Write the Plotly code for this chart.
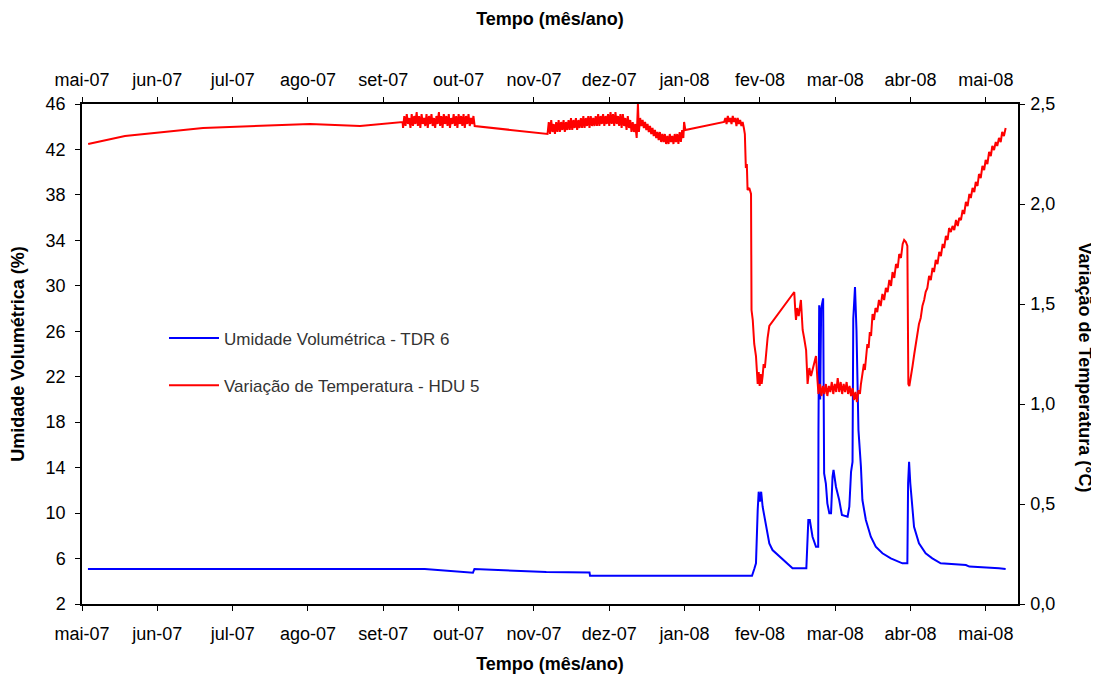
import pandas as pd
import plotly.graph_objects as go

# ---------------- data ----------------
BASE = pd.Timestamp("2007-05-01")
month_labels = ["mai-07", "jun-07", "jul-07", "ago-07", "set-07", "out-07", "nov-07",
                "dez-07", "jan-08", "fev-08", "mar-08", "abr-08", "mai-08"]
tick_days = [0, 30.5, 61, 91.5, 122, 152.5, 183, 213.5, 244, 274.5, 305, 335.5, 366]
x_end_day = 379

# Umidade Volumétrica - TDR 6 (days since 01/05/2007, %)
tdr_days = [2.4, 138.8, 158.3, 158.9, 188.0, 205.5, 205.7, 271.3, 272.3, 272.9, 273.6, 274.0,
            274.5, 275.0, 275.6, 277.0, 278.3, 279.6, 287.7, 293.3, 294.1, 294.7, 295.8, 297.2,
            298.1, 298.2, 298.5, 298.9, 299.3, 300.1, 300.5, 301.2, 301.8, 302.6, 303.3, 303.9,
            304.3, 305.3, 306.6, 307.7, 310.0, 310.7, 311.4, 312.0, 312.3, 313.0, 313.6, 314.4,
            315.4, 316.0, 317.4, 319.4, 321.4, 324.1, 327.5, 332.2, 334.2, 334.5, 334.9, 335.4,
            336.9, 338.9, 341.6, 344.3, 347.7, 357.9, 359.3, 371.3, 374.0]
tdr_vals = [5.08, 5.08, 4.75, 5.08, 4.82, 4.78, 4.49, 4.49, 5.14, 5.58, 10.27, 11.88,
            11.0, 11.88, 10.56, 8.8, 7.34, 6.75, 5.14, 5.14, 9.39, 9.39, 7.92, 7.04,
            7.04, 17.0, 28.3, 20.0, 28.0, 28.9, 13.5, 12.6, 10.86, 9.98, 9.98, 13.2,
            13.8, 12.3, 11.15, 9.83, 9.68, 10.56, 13.64, 14.5, 27.1, 29.9, 26.1, 17.3,
            14.08, 11.15, 9.39, 7.92, 7.04, 6.46, 6.02, 5.58, 5.58, 12.62, 14.52, 12.6,
            8.8, 7.34, 6.46, 6.02, 5.58, 5.43, 5.29, 5.14, 5.08]

# Variação de Temperatura - HDU 5 (days since 01/05/2007, °C), in segments
hdu_days_a = [2.5, 17.4, 49.0, 92.3, 112.6, 127.5, 129.8]
hdu_vals_a = [2.30, 2.34, 2.38, 2.40, 2.39, 2.405, 2.41]

hdu_days_b = [130.0, 130.5, 131.0, 131.5, 132.0, 132.5, 133.0, 133.5, 134.0, 134.5,
              135.0, 135.5, 136.0, 136.5, 137.0, 137.5, 138.0, 138.5, 139.0, 139.5,
              140.0, 140.5, 141.0, 141.5, 142.0, 142.5, 143.0, 143.5, 144.0, 144.5,
              145.0, 145.5, 146.0, 146.5, 147.0, 147.5, 148.0, 148.5, 149.0, 149.5,
              150.0, 150.5, 151.0, 151.5, 152.0, 152.5, 153.0, 153.5, 154.0, 154.5,
              155.0, 155.5, 156.0, 156.5, 157.0, 157.5, 158.0, 158.5, 159.0]
hdu_vals_b = [2.38, 2.44, 2.39, 2.45, 2.40, 2.43, 2.38, 2.45, 2.39, 2.44,
              2.40, 2.46, 2.39, 2.44, 2.38, 2.45, 2.40, 2.43, 2.39, 2.45,
              2.38, 2.44, 2.40, 2.45, 2.39, 2.43, 2.38, 2.44, 2.40, 2.46,
              2.39, 2.44, 2.38, 2.45, 2.40, 2.44, 2.39, 2.45, 2.38, 2.43,
              2.40, 2.45, 2.39, 2.44, 2.38, 2.45, 2.40, 2.44, 2.39, 2.45,
              2.38, 2.44, 2.40, 2.45, 2.39, 2.43, 2.40, 2.44, 2.39]

hdu_days_c = [188.5, 189.0, 189.5, 190.0, 190.5, 191.0, 191.5, 192.0, 192.5, 193.0,
              193.5, 194.0, 194.5, 195.0, 195.5, 196.0, 196.5, 197.0, 197.5, 198.0,
              198.5, 199.0, 199.5, 200.0, 200.5, 201.0, 201.5, 202.0, 202.5, 203.0,
              203.5, 204.0, 204.5, 205.0, 205.5, 206.0, 206.5, 207.0, 207.5, 208.0,
              208.5, 209.0, 209.5, 210.0, 210.5, 211.0, 211.5, 212.0, 212.5, 213.0,
              213.5, 214.0, 214.5, 215.0, 215.5, 216.0, 216.5, 217.0, 217.5, 218.0,
              218.5, 219.0, 219.5, 220.0, 220.5, 221.0, 221.5, 222.0, 222.5, 223.0,
              223.5, 224.0, 224.6, 225.1, 225.5,
              226.0, 226.5, 227.0, 227.5, 228.0, 228.5, 229.0, 229.5, 230.0, 230.5,
              231.0, 231.5, 232.0, 232.5, 233.0, 233.5, 234.0, 234.5, 235.0, 235.5,
              236.0, 236.5, 237.0, 237.5, 238.0, 238.5, 239.0, 239.5, 240.0, 240.5,
              241.0, 241.5, 242.0, 242.5, 243.0, 243.5, 243.8, 244.3]
hdu_vals_c = [2.35, 2.41, 2.35, 2.42, 2.36, 2.40, 2.35, 2.41, 2.36, 2.42,
              2.36, 2.41, 2.37, 2.42, 2.36, 2.41, 2.37, 2.42, 2.37, 2.43,
              2.37, 2.42, 2.38, 2.43, 2.37, 2.42, 2.38, 2.43, 2.38, 2.44,
              2.38, 2.43, 2.39, 2.44, 2.38, 2.44, 2.39, 2.43, 2.39, 2.44,
              2.39, 2.45, 2.39, 2.44, 2.40, 2.45, 2.39, 2.44, 2.40, 2.45,
              2.39, 2.46, 2.40, 2.45, 2.39, 2.46, 2.40, 2.44, 2.39, 2.45,
              2.38, 2.45, 2.39, 2.43, 2.37, 2.44, 2.38, 2.42, 2.36, 2.41,
              2.36, 2.40, 2.33, 2.50, 2.36,
              2.43, 2.39, 2.42, 2.38, 2.41, 2.37, 2.40, 2.36, 2.39, 2.35,
              2.38, 2.34, 2.37, 2.33, 2.36, 2.32, 2.36, 2.31, 2.35, 2.31,
              2.35, 2.30, 2.34, 2.30, 2.35, 2.31, 2.34, 2.30, 2.35, 2.31,
              2.35, 2.30, 2.36, 2.31, 2.37, 2.33, 2.41, 2.37]

hdu_days_d = [260.0, 260.5, 261.0, 261.5, 262.0, 262.5, 263.0, 263.5, 264.0, 264.5,
              265.0, 265.5, 266.0, 266.5, 267.0, 267.5, 268.0]
hdu_vals_d = [2.41, 2.43, 2.40, 2.44, 2.41, 2.43, 2.40, 2.44, 2.41, 2.43,
              2.39, 2.43, 2.40, 2.42, 2.39, 2.41, 2.38]

hdu_days_e = [268.4, 268.8, 269.2, 269.5, 270.2, 270.9, 271.1, 271.6, 272.2, 272.9, 273.3, 273.6,
              274.0, 274.4, 274.8, 275.2, 275.6, 276.0, 276.5, 277.0, 277.6, 278.3, 288.4, 288.8,
              289.1, 289.6, 290.2, 291.1, 291.8, 292.4, 293.2, 293.8, 294.5, 295.2, 295.8, 296.5,
              297.2, 297.8, 298.2]
hdu_vals_e = [2.35, 2.18, 2.20, 2.07, 2.08, 2.05, 1.47, 1.42, 1.30, 1.24, 1.15, 1.10,
              1.16, 1.09, 1.15, 1.10, 1.14, 1.20, 1.18, 1.27, 1.33, 1.39, 1.56, 1.47,
              1.42, 1.48, 1.44, 1.52, 1.37, 1.33, 1.27, 1.10, 1.18, 1.14, 1.17, 1.20,
              1.24, 1.12, 1.05]

hdu_days_f = [298.8, 299.4, 300.0, 300.6, 301.2, 301.8, 302.4, 303.0, 303.6, 304.2, 304.8, 305.4,
              306.0, 306.6, 307.2, 307.8, 308.4, 309.0, 309.6, 310.2, 310.8, 311.4, 312.0, 312.6,
              313.2, 313.8, 314.4, 315.0, 315.4]
hdu_vals_f = [1.10, 1.04, 1.09, 1.05, 1.10, 1.04, 1.09, 1.06, 1.11, 1.05, 1.10, 1.06,
              1.13, 1.06, 1.11, 1.05, 1.10, 1.06, 1.11, 1.05, 1.09, 1.04, 1.08, 1.02,
              1.06, 1.01, 1.07, 1.05, 1.10]

hdu_days_g = [316.0, 316.6, 317.0, 317.4, 318.0, 318.5, 319.0, 319.5, 320.1, 320.7, 321.3, 322.0,
              322.7, 323.4, 324.1, 324.8, 325.5, 326.2, 326.9, 327.6, 328.2, 328.9, 329.6, 330.3,
              330.9, 331.6, 332.3, 332.9, 333.6, 334.2]
hdu_vals_g = [1.14, 1.20, 1.17, 1.24, 1.30, 1.28, 1.36, 1.34, 1.45, 1.42, 1.48, 1.46,
              1.52, 1.49, 1.55, 1.52, 1.58, 1.56, 1.62, 1.59, 1.66, 1.63, 1.70, 1.68,
              1.75, 1.73, 1.80, 1.82, 1.81, 1.79]

hdu_days_h = [334.6, 335.0, 335.6, 336.3, 337.0, 337.6, 338.3, 338.9, 339.6, 340.3, 341.0, 341.6,
              342.3, 343.0, 343.7, 344.4, 345.0, 345.7, 346.4, 347.1, 347.8, 348.5, 349.1, 349.8,
              350.5, 351.1, 351.8, 352.5, 353.2, 353.9, 354.6, 355.2, 355.9, 356.6, 357.2, 357.9,
              358.6, 359.3, 359.9, 360.6, 361.3, 361.9, 362.6, 363.2, 363.9, 364.6, 365.3, 365.9,
              366.6, 367.3, 368.0, 368.6, 369.3, 370.0, 370.6, 371.3, 372.0, 372.6, 373.3, 374.0]
hdu_vals_h = [1.10, 1.09, 1.15, 1.19, 1.25, 1.30, 1.34, 1.40, 1.43, 1.49, 1.52, 1.56,
              1.58, 1.64, 1.62, 1.68, 1.66, 1.72, 1.70, 1.76, 1.74, 1.80, 1.78, 1.84,
              1.82, 1.88, 1.86, 1.89, 1.87, 1.92, 1.89, 1.93, 1.92, 1.97, 1.95, 2.01,
              1.99, 2.05, 2.03, 2.08, 2.06, 2.11, 2.09, 2.15, 2.13, 2.19, 2.17, 2.22,
              2.20, 2.26, 2.24, 2.29, 2.27, 2.31, 2.29, 2.33, 2.31, 2.36, 2.34, 2.38]

hdu_days = (hdu_days_a + hdu_days_b + hdu_days_c + hdu_days_d + hdu_days_e
            + hdu_days_f + hdu_days_g + hdu_days_h)
hdu_vals = (hdu_vals_a + hdu_vals_b + hdu_vals_c + hdu_vals_d + hdu_vals_e
            + hdu_vals_f + hdu_vals_g + hdu_vals_h)


def to_dates(days):
    return BASE + pd.to_timedelta(days, unit="D")


tick_dates = to_dates(tick_days)
x_range = [BASE, BASE + pd.Timedelta(days=x_end_day)]

FONT = "Liberation Sans, Arial, sans-serif"
# the page body adds an 8 px offset, so the figure is 8 px smaller than the window
W, H = 1091, 669
M_L, M_R, M_T, M_B = 74, 81, 96, 73
PLOT_W = W - M_L - M_R
PLOT_H = H - M_T - M_B

fig = go.Figure()
fig.add_trace(go.Scatter(
    x=to_dates(tdr_days), y=tdr_vals, mode="lines",
    name="Umidade Volumétrica - TDR 6", legendgroup="a",
    line=dict(color="#0000FF", width=2),
    xaxis="x", yaxis="y"))
fig.add_trace(go.Scatter(
    x=to_dates(hdu_days), y=hdu_vals, mode="lines",
    name="Variação de Temperatura - HDU 5", legendgroup="b",
    line=dict(color="#FF0000", width=2),
    xaxis="x2", yaxis="y2"))

axis_common = dict(showline=True, linecolor="black", linewidth=1.5, showgrid=False,
                   zeroline=False, ticks="outside", ticklen=5, tickcolor="black",
                   automargin=False,
                   tickfont=dict(family=FONT, size=18, color="black"))
title_font = dict(family=FONT, size=18, color="black")

fig.update_layout(
    width=W, height=H,
    paper_bgcolor="white", plot_bgcolor="white",
    separators=",.",
    margin=dict(l=M_L, r=M_R, t=M_T, b=M_B, autoexpand=False),
    font=dict(family=FONT, size=17, color="black"),
    xaxis=dict(type="date", range=x_range, tickvals=tick_dates, ticktext=month_labels,
               ticklabelstandoff=8,
               title=dict(text="<b>Tempo (mês/ano)</b>", font=title_font, standoff=14),
               **axis_common),
    xaxis2=dict(type="date", range=x_range, tickvals=tick_dates, ticktext=month_labels,
                overlaying="x", side="top", anchor="y", ticklabelstandoff=4,
                title=dict(text="<b>Tempo (mês/ano)</b>", font=title_font, standoff=40),
                **axis_common),
    yaxis=dict(range=[2, 46], tickvals=[2, 6, 10, 14, 18, 22, 26, 30, 34, 38, 42, 46],
               ticklabelstandoff=6,
               title=dict(text="<b>Umidade Volumétrica (%)</b>", font=title_font, standoff=18),
               **axis_common),
    yaxis2=dict(range=[0, 2.5], tickvals=[0, 0.5, 1.0, 1.5, 2.0, 2.5], tickformat=".1f",
                overlaying="y", side="right", anchor="x", ticklabelstandoff=2,
                **axis_common),
    legend=dict(x=0.0876, y=0.567, xanchor="left", yanchor="top",
                bgcolor="rgba(0,0,0,0)", itemwidth=50, tracegroupgap=22,
                font=dict(family=FONT, size=17, color="#333333")),
    showlegend=True,
    annotations=[dict(text="<b>Variação de Temperatura (°C)</b>", textangle=90,
                      x=(1077 - M_L) / PLOT_W, y=0.5 - 13.5 / PLOT_H,
                      xanchor="center", yanchor="middle",
                      xref="paper", yref="paper", showarrow=False,
                      font=title_font)],
)

fig.write_html("out.html")
